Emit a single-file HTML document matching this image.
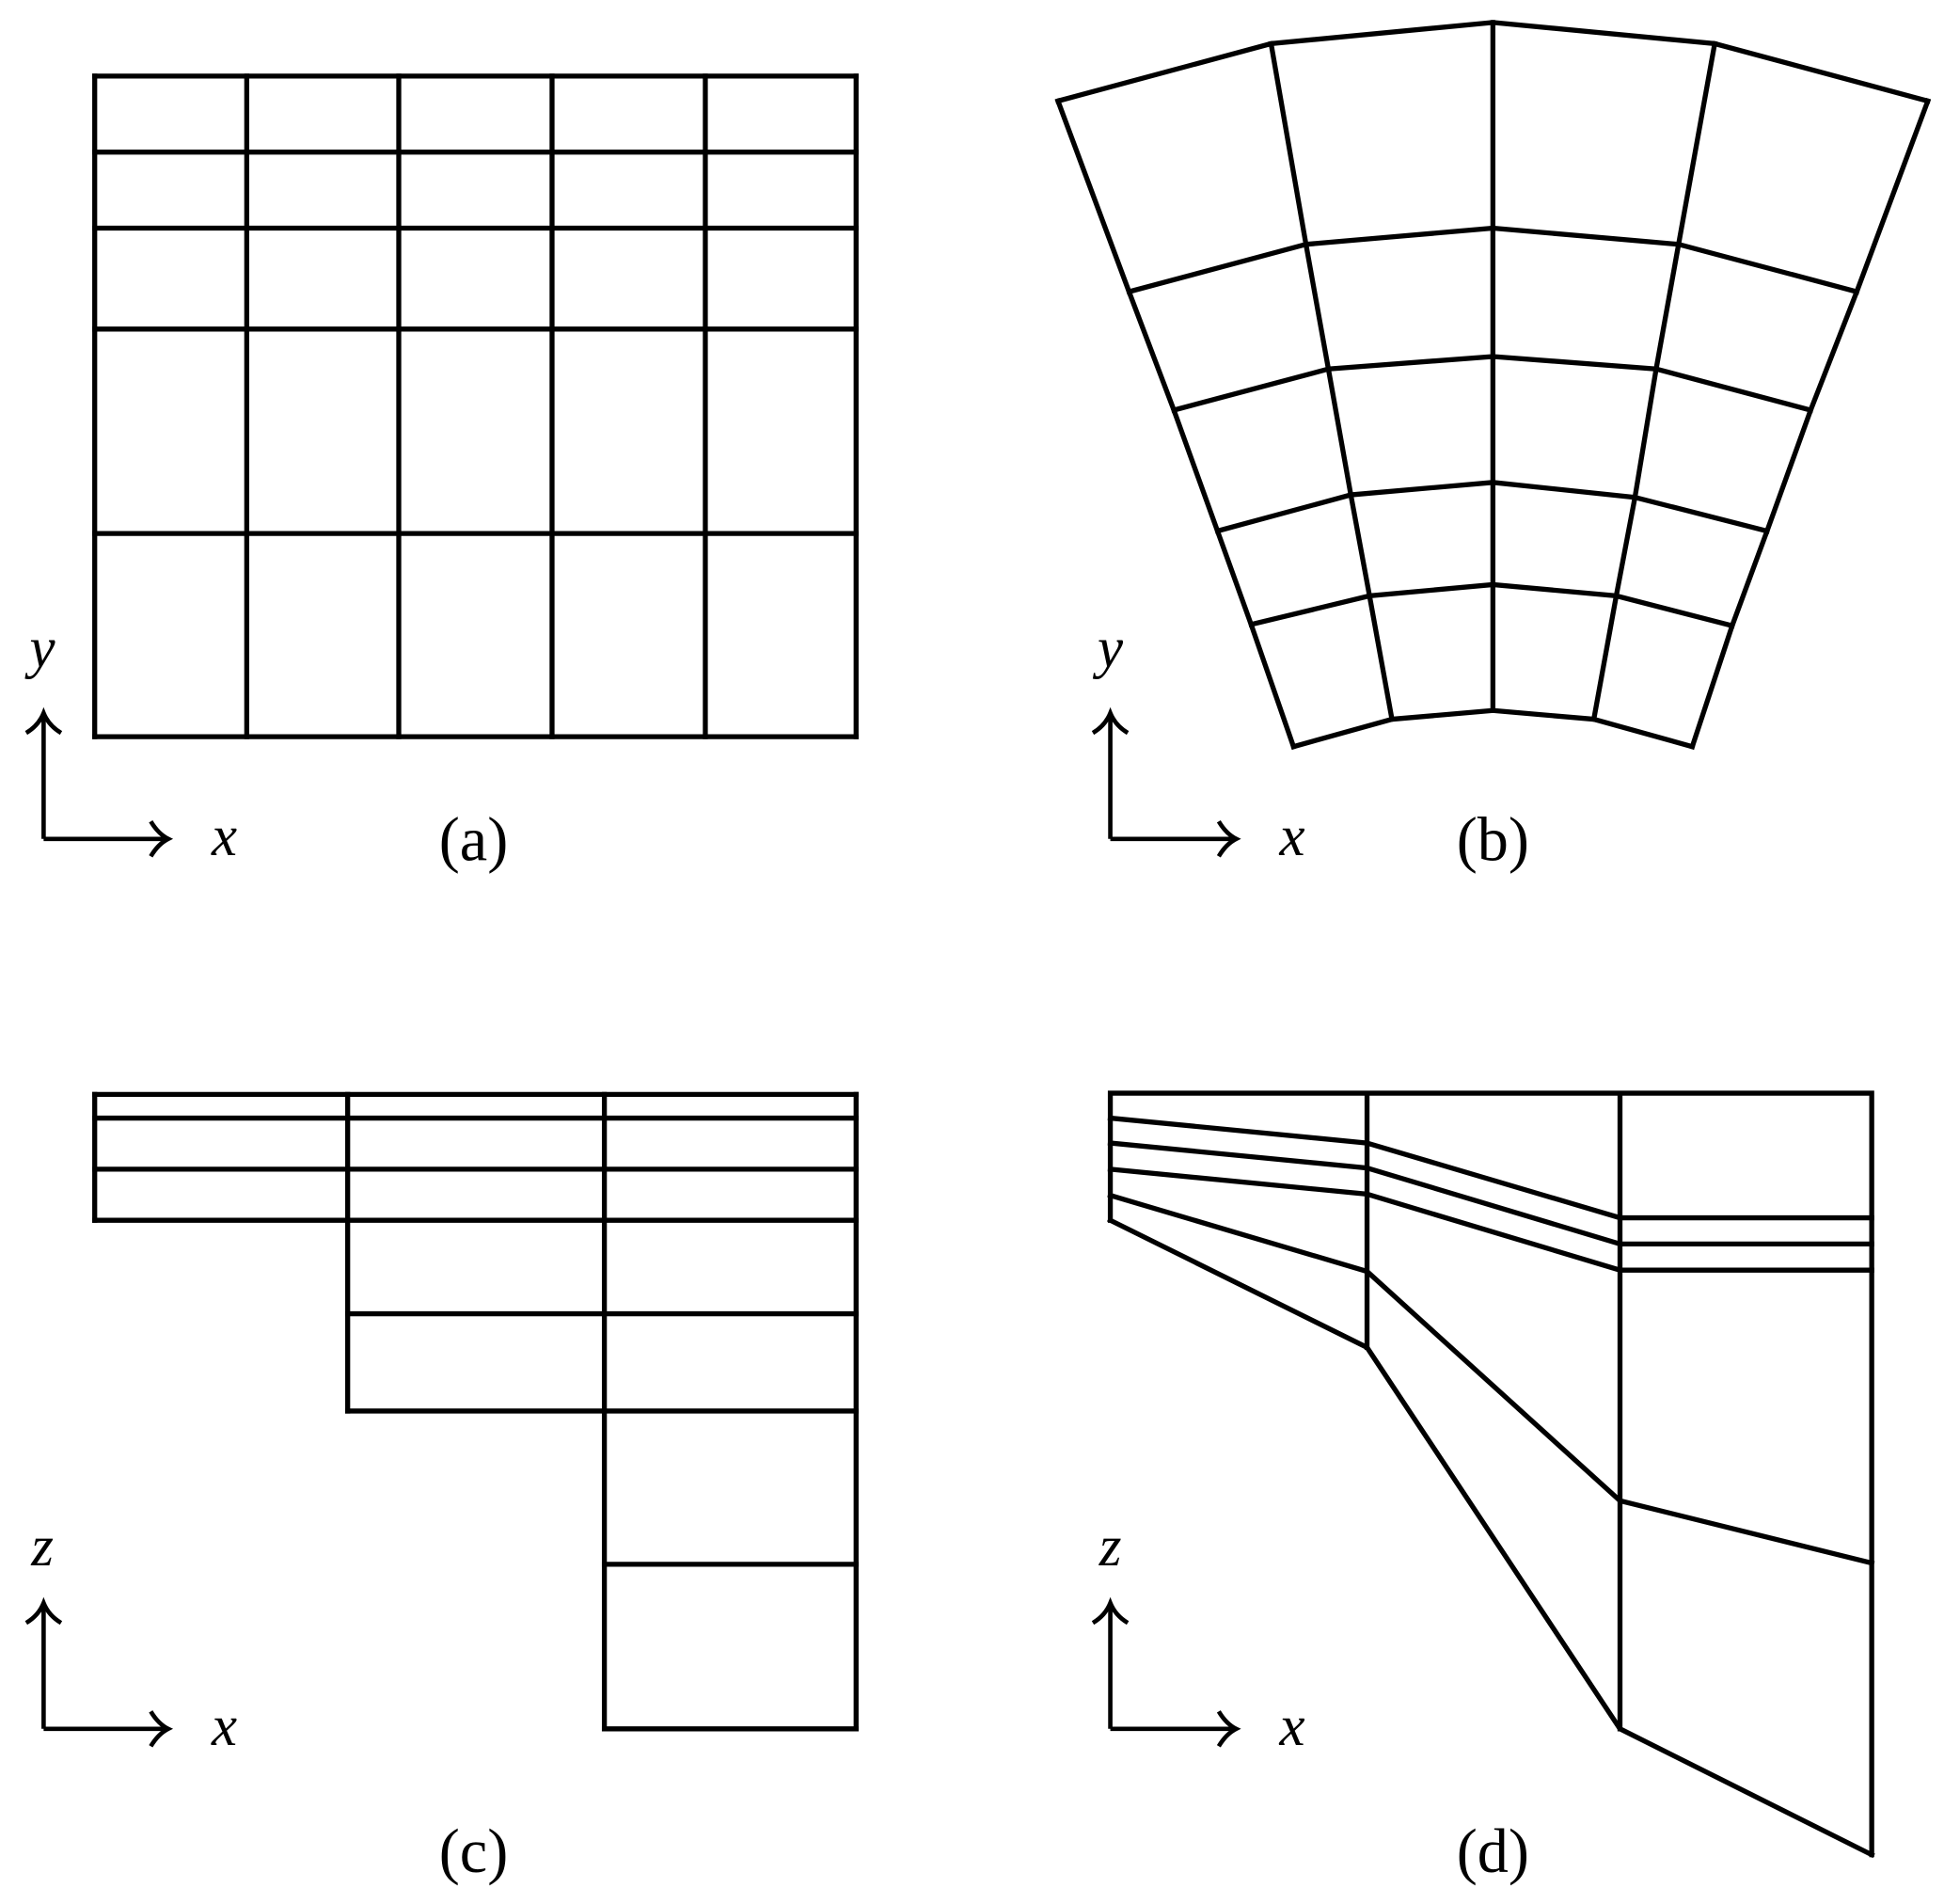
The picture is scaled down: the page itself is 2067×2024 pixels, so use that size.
<!DOCTYPE html>
<html><head><meta charset="utf-8"><style>
html,body{margin:0;padding:0;background:#fff;}
svg{display:block;}
text{font-family:"Liberation Serif",serif;fill:#000;}
</style></head><body>
<svg width="2067" height="2024" viewBox="0 0 1560 1527.5" xmlns="http://www.w3.org/2000/svg">
<g fill="none" stroke="#000" stroke-width="4" stroke-linecap="square" stroke-linejoin="miter">
<!-- (a) -->
<path d="M76,61H687M76,122H687M76,183H687M76,264H687M76,428H687M76,591H687"/>
<path d="M76,61V591M198,61V591M320,61V591M443,61V591M566,61V591M687,61V591"/>
<!-- (b) -->
<polyline points="849,81 1020,35 1198,18 1376,35 1547,81"/>
<polyline points="906,234 1048,196 1198,183 1347,196 1490,234"/>
<polyline points="942,329 1066,296 1198,286 1329,296 1453,329"/>
<polyline points="977,426 1084,397 1198,387 1312,399 1418,426"/>
<polyline points="1004,501 1099,478 1198,469 1297,478 1390,502"/>
<polyline points="1038,599 1117,577 1198,570 1279,577 1358,599"/>
<polyline points="849,81 906,234 942,329 977,426 1004,501 1038,599"/>
<polyline points="1020,35 1048,196 1066,296 1084,397 1099,478 1117,577"/>
<polyline points="1198,18 1198,570"/>
<polyline points="1376,35 1347,196 1329,296 1312,399 1297,478 1279,577"/>
<polyline points="1547,81 1490,234 1453,329 1418,426 1390,502 1358,599"/>
<!-- (c) -->
<path d="M76,878H687M76,897H687M76,938H687M76,979H687M279,1054H687M279,1132H687M485,1255H687M485,1387H687"/>
<path d="M76,878V979M279,878V1132M485,878V1387M687,878V1387"/>
<!-- (d) -->
<path d="M891,877H1502M891,877V979M1097,877V1081M1300,877V1387M1502,877V1488"/>
<polyline points="891,897 1097,917 1300,977 1502,977"/>
<polyline points="891,917 1097,937 1300,998 1502,998"/>
<polyline points="891,938 1097,958 1300,1019 1502,1019"/>
<polyline points="891,959 1097,1020 1300,1204 1502,1254"/>
<polyline points="891,979 1097,1081 1300,1387 1502,1488"/>
</g>
<!-- axes -->
<g fill="none" stroke="#000" stroke-width="3.5">
<path d="M35,673V574M35,673H133"/>
<path d="M21,588Q31,582 35,572Q39,582 49,588M121,659Q127,669 135,673Q127,677 121,687"/>
<path d="M891,673V574M891,673H990"/>
<path d="M877,588Q887,582 891,572Q895,582 905,588M978,659Q984,669 992,673Q984,677 978,687"/>
<path d="M35,1387V1289M35,1387H133"/>
<path d="M21,1302Q31,1296 35,1286Q39,1296 49,1302M121,1373Q127,1383 135,1387Q127,1391 121,1401"/>
<path d="M891,1387V1289M891,1387H990"/>
<path d="M877,1302Q887,1296 891,1286Q895,1296 905,1302M978,1373Q984,1383 992,1387Q984,1391 978,1401"/>
</g>
<g font-style="italic" font-size="46" text-anchor="middle">
<text x="34" y="535">y</text>
<text x="180" y="686">x</text>
<text x="891" y="535">y</text>
<text x="1037" y="686">x</text>
<text x="34" y="1256">z</text>
<text x="180" y="1400">x</text>
<text x="891" y="1256">z</text>
<text x="1037" y="1400">x</text>
</g>
<g font-size="50" text-anchor="middle">
<text x="380" y="690">(a)</text>
<text x="1198" y="690">(b)</text>
<text x="380" y="1502">(c)</text>
<text x="1198" y="1502">(d)</text>
</g>
</svg>
</body></html>
